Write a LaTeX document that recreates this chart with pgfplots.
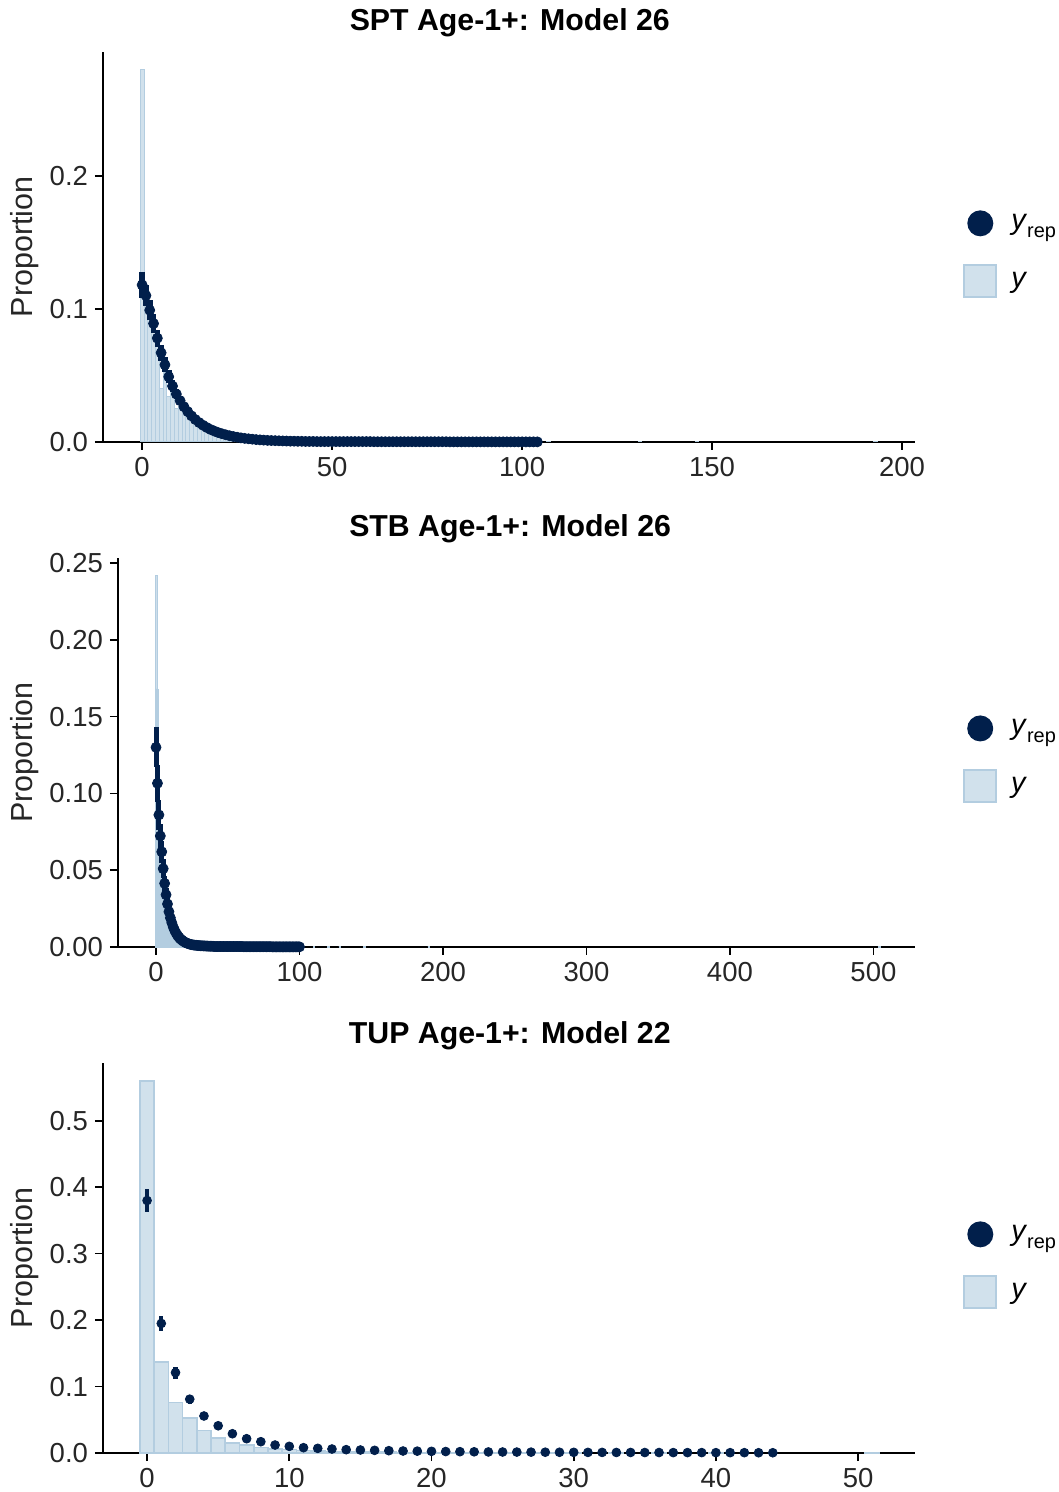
\documentclass[border=0pt]{standalone}
\usepackage{pgfplots}
\pgfplotsset{compat=1.18}
\usepackage{pgfplotstable}
\usepackage{fontspec}
\setmainfont{Liberation Sans}
\definecolor{lightfill}{HTML}{D1E1EC}
\definecolor{lightedge}{HTML}{B3CDE0}
\definecolor{darkpt}{HTML}{011F4B}

% ---------- SPT ----------
\pgfplotstableread{
x y
0 0.280
1 0.108
2 0.100
3 0.088
4 0.074
5 0.040
6 0.052
7 0.034
8 0.038
9 0.025
10 0.027
11 0.023
12 0.019
13 0.0165
14 0.014
15 0.012
16 0.0105
17 0.009
18 0.0078
19 0.0067
20 0.0058
21 0.005
22 0.0043
23 0.0037
24 0.0032
25 0.0028
26 0.0024
27 0.0021
28 0.0018
29 0.0016
30 0.0014
31 0.0012
32 0.0011
33 0.0010
34 0.0009
35 0.0008
36 0.0007
37 0.0006
38 0.0006
39 0.0005
40 0.0005
42 0.0004
44 0.0003
47 0.0003
50 0.0002
55 0.0002
60 0.0002
107 0.0005
131 0.0004
146 0.0004
193 0.0004
}\sptbars
\pgfplotstableread{
x y e
0 0.118 0.010
1 0.110 0.008
2 0.099 0.0075
3 0.089 0.007
4 0.078 0.0065
5 0.067 0.006
6 0.058 0.0055
7 0.049 0.005
8 0.042 0.0045
9 0.036 0.004
10 0.031 0.0035
11 0.0265 0.003
12 0.0228 0.003
13 0.0196 0.0025
14 0.0169 0.0025
15 0.0146 0.002
16 0.0126 0.002
17 0.0109 0.002
18 0.0094 0.0015
19 0.0082 0.0015
20 0.0071 0.0015
21 0.0062 0.0012
22 0.0054 0.0012
23 0.0047 0.001
24 0.0041 0.001
25 0.0036 0.001
26 0.0031 0.001
27 0.0027 0.0008
28 0.0024 0.0008
29 0.0021 0.0008
30 0.0018 0.0007
31 0.0016 0.0006
32 0.0014 0.0006
33 0.0012 0.0005
34 0.0011 0.0005
35 0.0010 0.0005
36 0.0009 0.0004
37 0.0008 0.0004
38 0.0007 0.0004
39 0.0006 0.0003
40 0.0006 0.0003
41 0.0005 0.0003
42 0.0005 0.0003
43 0.0004 0.0003
44 0.0004 0.0003
45 0.0004 0.0003
46 0.0003 0.0002
47 0.0003 0.0002
48 0.0003 0.0002
49 0.0003 0.0002
50 0.0003 0.0002
51 0.0003 0.0002
52 0.0003 0.0002
53 0.0003 0.0002
54 0.0003 0.0002
55 0.0003 0.0002
56 0.0003 0.0002
57 0.0003 0.0002
58 0.0003 0.0002
59 0.0003 0.0002
60 0.0003 0.0002
61 0.0002 0.0002
62 0.0002 0.0002
63 0.0002 0.0002
64 0.0002 0.0002
65 0.0002 0.0002
66 0.0002 0.0002
67 0.0002 0.0002
68 0.0002 0.0002
69 0.0002 0.0002
70 0.0002 0.0002
71 0.0002 0.0002
72 0.0002 0.0002
73 0.0002 0.0002
74 0.0002 0.0002
75 0.0002 0.0002
76 0.0002 0.0002
77 0.0002 0.0002
78 0.0002 0.0002
79 0.0002 0.0002
80 0.0002 0.0002
81 0.0001 0.0001
82 0.0001 0.0001
83 0.0001 0.0001
84 0.0001 0.0001
85 0.0001 0.0001
86 0.0001 0.0001
87 0.0001 0.0001
88 0.0001 0.0001
89 0.0001 0.0001
90 0.0001 0.0001
91 0.0001 0.0001
92 0.0001 0.0001
93 0.0001 0.0001
94 0.0001 0.0001
95 0.0001 0.0001
96 0.0001 0.0001
97 0.0001 0.0001
98 0.0001 0.0001
99 0.0001 0.0001
100 0.0001 0.0001
101 0.0001 0.0001
102 0.0001 0.0001
103 0.0001 0.0001
104 0.0001 0.0001
}\sptpts

% ---------- STB ----------
\pgfplotstableread{
x y
0 0.242
1 0.168
2 0.095
3 0.075
4 0.060
5 0.048
6 0.039
7 0.031
8 0.025
9 0.020
10 0.016
11 0.013
12 0.011
13 0.009
14 0.0075
15 0.0062
16 0.0052
17 0.0044
18 0.0037
19 0.0030
20 0.0026
21 0.0022
22 0.0020
23 0.0018
24 0.0016
25 0.0014
26 0.0012
27 0.0011
28 0.0010
29 0.0009
30 0.0008
32 0.0006
34 0.0005
36 0.0004
38 0.0003
41 0.0003
45 0.0002
110 0.0005
120 0.0005
128 0.0005
145 0.0005
190 0.0005
504 0.0005
}\stbbars
\pgfplotstableread{
x y e
0 0.130 0.013
1 0.1066 0.012
2 0.086 0.010
3 0.0723 0.008
4 0.062 0.007
5 0.051 0.006
6 0.0414 0.005
7 0.034 0.0045
8 0.028 0.004
9 0.023 0.0035
10 0.019 0.003
11 0.0158 0.0028
12 0.013 0.0025
13 0.0108 0.0022
14 0.009 0.002
15 0.0075 0.002
16 0.0063 0.0015
17 0.0053 0.0015
18 0.0045 0.0012
19 0.0038 0.0012
20 0.0032 0.001
21 0.0027 0.001
22 0.0023 0.001
23 0.0020 0.001
24 0.0017 0.001
25 0.0015 0.001
26 0.0013 0.0005
27 0.0012 0.0005
28 0.0011 0.0005
29 0.0010 0.0005
30 0.0009 0.0005
31 0.0008 0.0005
32 0.0008 0.0005
33 0.0007 0.0005
34 0.0007 0.0005
35 0.0006 0.0005
36 0.0006 0.0005
37 0.0005 0.0005
38 0.0005 0.0005
39 0.0005 0.0005
40 0.0004 0.0004
41 0.0003 0.0003
42 0.0003 0.0003
43 0.0003 0.0003
44 0.0003 0.0003
45 0.0003 0.0003
46 0.0003 0.0003
47 0.0003 0.0003
48 0.0003 0.0003
49 0.0003 0.0003
50 0.0003 0.0003
51 0.0003 0.0003
52 0.0003 0.0003
53 0.0003 0.0003
54 0.0003 0.0003
55 0.0003 0.0003
56 0.0003 0.0003
57 0.0003 0.0003
58 0.0003 0.0003
59 0.0003 0.0003
60 0.0003 0.0003
61 0.0002 0.0002
62 0.0002 0.0002
63 0.0002 0.0002
64 0.0002 0.0002
65 0.0002 0.0002
66 0.0002 0.0002
67 0.0002 0.0002
68 0.0002 0.0002
69 0.0002 0.0002
70 0.0002 0.0002
71 0.0002 0.0002
72 0.0002 0.0002
73 0.0002 0.0002
74 0.0002 0.0002
75 0.0002 0.0002
76 0.0002 0.0002
77 0.0002 0.0002
78 0.0002 0.0002
79 0.0002 0.0002
80 0.0002 0.0002
81 0.0001 0.0001
82 0.0001 0.0001
83 0.0001 0.0001
84 0.0001 0.0001
85 0.0001 0.0001
86 0.0001 0.0001
87 0.0001 0.0001
88 0.0001 0.0001
89 0.0001 0.0001
90 0.0001 0.0001
91 0.0001 0.0001
92 0.0001 0.0001
93 0.0001 0.0001
94 0.0001 0.0001
95 0.0001 0.0001
96 0.0001 0.0001
97 0.0001 0.0001
98 0.0001 0.0001
99 0.0001 0.0001
100 0.0001 0.0001
}\stbpts

% ---------- TUP ----------
\pgfplotstableread{
x y
0 0.560
1 0.137
2 0.076
3 0.053
4 0.034
5 0.023
6 0.0155
7 0.012
8 0.0085
9 0.006
10 0.005
11 0.004
12 0.003
13 0.0025
14 0.002
15 0.0018
16 0.0015
17 0.0012
18 0.0010
19 0.0009
20 0.0008
21 0.0006
22 0.0006
23 0.0005
24 0.0005
25 0.0005
26 0.0004
27 0.0004
28 0.0004
29 0.0004
30 0.0004
33 0.0003
36 0.0003
40 0.0002
51 0.0005
}\tupbars
\pgfplotstableread{
x y e
0 0.380 0.017
1 0.195 0.011
2 0.121 0.009
3 0.081 0.007
4 0.0557 0.005
5 0.041 0.004
6 0.029 0.003
7 0.0215 0.003
8 0.017 0.002
9 0.012 0.002
10 0.010 0.002
11 0.008 0.0015
12 0.007 0.0015
13 0.006 0.001
14 0.005 0.001
15 0.0045 0.001
16 0.004 0.001
17 0.0035 0.001
18 0.003 0.001
19 0.0028 0.001
20 0.0025 0.001
21 0.0022 0.0008
22 0.0020 0.0008
23 0.0018 0.0008
24 0.0016 0.0008
25 0.0015 0.0008
26 0.0014 0.0006
27 0.0013 0.0006
28 0.0012 0.0006
29 0.0011 0.0006
30 0.0010 0.0006
31 0.0009 0.0005
32 0.0009 0.0005
33 0.0008 0.0005
34 0.0008 0.0005
35 0.0007 0.0005
36 0.0007 0.0005
37 0.0006 0.0004
38 0.0006 0.0004
39 0.0006 0.0004
40 0.0005 0.0004
41 0.0005 0.0004
42 0.0005 0.0004
43 0.0004 0.0003
44 0.0004 0.0003
}\tuppts

\pgfplotsset{
  ppc/.style={
    scale only axis,
    axis x line=bottom, axis y line=left,
    axis line style={-, line width=0.8bp, black},
    tick align=outside,
    major tick length=4bp,
    tick style={line width=0.8bp, black},
    ymin=0,
    clip=false,
    /pgf/number format/assume math mode=true,
    tick label style={font=\fontsize{13.8}{16}\selectfont, text=black!85},
    ylabel={Proportion},
    ylabel style={font=\fontsize{15.3}{18}\selectfont, text=black!85},
    legend style={draw=none, fill=none, inner sep=0pt, anchor=west,
      row sep=12.5bp, column sep=5bp, font=\fontsize{14.5}{17}\selectfont,
      legend cell align=left},
  },
  barsty/.style={ybar, bar width=1, bar shift=0pt, fill=lightfill, draw=lightedge, line width=0.5bp},
  ptsty/.style 2 args={only marks, mark=*, mark size=#1, color=darkpt,
    error bars/.cd, y dir=both, y explicit,
    error bar style={line width=#2, color=darkpt}, error mark=none},
}
\newcommand{\ppclegend}{%
  \addlegendimage{legend image code/.code={\path[draw=none, fill=none] (0bp,-8bp) rectangle (16bp,8bp); \fill[darkpt, draw=none] (8bp,0bp) circle (6.5bp);}}
  \addlegendentry{\textit{y}\raisebox{-0.5ex}{\fontsize{10}{12}\selectfont rep}}
  \addlegendimage{legend image code/.code={\draw[fill=lightfill, draw=lightedge, line width=1bp] (0bp,-8bp) rectangle (16bp,8bp);}}
  \addlegendentry{\textit{y}}
}
\newcommand{\ttlfont}{\fontsize{15.2}{18}\selectfont\bfseries}

\begin{document}
\begin{tikzpicture}
\useasboundingbox (0,0) rectangle (529.5bp,746bp);

% Panel 1: SPT
\begin{axis}[ppc,
  at={(51.5bp,525bp)}, anchor=south west,
  width=406bp, height=195bp,
  xmin=-10.3, xmax=203.4, ymax=0.293,
  xtick={0,50,100,150,200},
  ytick={0,0.1,0.2},
  yticklabel style={/pgf/number format/.cd, fixed, fixed zerofill, precision=1},
  ylabel style={at={(axis description cs:-0.096,0.5)}, anchor=center},
  legend style={at={(axis description cs:1.059,0.485)}},
]
\ppclegend
\addplot[forget plot, barsty] table[x=x,y=y] {\sptbars};
\addplot[forget plot, ptsty={2.5bp}{2.8bp}] table[x=x,y=y,y error=e] {\sptpts};
\node[font=\ttlfont, anchor=base] at (axis description cs:0.501,1.054) {SPT Age-1+: Model 26};
\end{axis}

% Panel 2: STB
\begin{axis}[ppc,
  at={(59bp,272.5bp)}, anchor=south west,
  width=398.5bp, height=194.5bp,
  xmin=-26.5, xmax=529, ymax=0.2533,
  xtick={0,100,200,300,400,500},
  ytick={0,0.05,0.10,0.15,0.20,0.25},
  yticklabel style={/pgf/number format/.cd, fixed, fixed zerofill, precision=2},
  ylabel style={at={(axis description cs:-0.1167,0.5)}, anchor=center},
  legend style={at={(axis description cs:1.060,0.486)}},
]
\ppclegend
\addplot[forget plot, barsty, draw=lightedge, fill=lightedge, line width=0.2bp] table[x=x,y=y] {\stbbars};
\addplot[forget plot, ptsty={2.5bp}{2.5bp}] table[x=x,y=y,y error=e] {\stbpts};
\node[font=\ttlfont, anchor=base] at (axis description cs:0.492,1.054) {STB Age-1+: Model 26};
\end{axis}

% Panel 3: TUP
\begin{axis}[ppc,
  at={(51.5bp,19.5bp)}, anchor=south west,
  width=406bp, height=195bp,
  xmin=-3.1, xmax=54.0, ymax=0.587,
  xtick={0,10,20,30,40,50},
  ytick={0,0.1,0.2,0.3,0.4,0.5},
  yticklabel style={/pgf/number format/.cd, fixed, fixed zerofill, precision=1},
  ylabel style={at={(axis description cs:-0.096,0.5)}, anchor=center},
  legend style={at={(axis description cs:1.059,0.485)}},
]
\ppclegend
\addplot[forget plot, barsty, line width=0.8bp] table[x=x,y=y] {\tupbars};
\addplot[forget plot, ptsty={2.2bp}{2.1bp}] table[x=x,y=y,y error=e] {\tuppts};
\node[font=\ttlfont, anchor=base] at (axis description cs:0.501,1.051) {TUP Age-1+: Model 22};
\end{axis}
\end{tikzpicture}
\end{document}
